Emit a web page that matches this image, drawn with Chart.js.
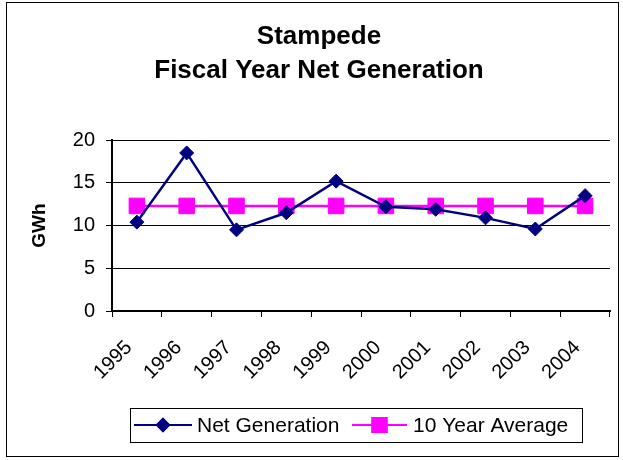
<!DOCTYPE html>
<html>
<head>
<meta charset="utf-8">
<title>Stampede Fiscal Year Net Generation</title>
<script src="https://cdn.jsdelivr.net/npm/chart.js@4"></script>
<style>
    html, body { margin: 0; padding: 0; background: #fff; }
    #wrap { width: 623px; height: 460px; }
</style>
</head>
<body>
<div id="wrap"><canvas id="lineChart" width="623" height="460"></canvas></div>
<script>
// Chart data
const years = ['1995', '1996', '1997', '1998', '1999', '2000', '2001', '2002', '2003', '2004'];
const netGeneration = [10.4, 18.5, 9.5, 11.5, 15.2, 12.2, 11.9, 10.9, 9.6, 13.5];
const tenYearAverage = [12.3, 12.3, 12.3, 12.3, 12.3, 12.3, 12.3, 12.3, 12.3, 12.3];
const yTicks = [0, 5, 10, 15, 20];
const seriesNames = ['Net Generation', '10 Year Average'];

const FONT = 'Liberation Sans, Arial, sans-serif';
const NAVY = '#000080';
const MAGENTA = '#FF00FF';

// Outer frame + legend box, drawn like the Excel one
const frameAndLegend = {
    id: 'frameAndLegend',
    afterDraw(chart) {
        const ctx = chart.ctx;
        ctx.save();

        // outer border
        ctx.strokeStyle = '#000';
        ctx.lineWidth = 1;
        ctx.strokeRect(6.5, 2.5, 612, 454);

        // legend box
        ctx.strokeRect(130.5, 408.5, 452, 34);

        const ds = chart.data.datasets;
        const y = 425;
        const items = [
            { x0: 134, x1: 192, text: 197 },
            { x0: 352, x1: 407, text: 413 }
        ];
        items.forEach((it, i) => {
            const d = ds[i];
            ctx.strokeStyle = d.borderColor;
            ctx.lineWidth = 2;
            ctx.beginPath();
            ctx.moveTo(it.x0, y);
            ctx.lineTo(it.x1, y);
            ctx.stroke();
            Chart.helpers.drawPoint(ctx, {
                pointStyle: d.pointStyle,
                radius: i === 0 ? 6 : 10,
                rotation: 0,
                borderWidth: 1
            }, (it.x0 + it.x1) / 2, y);
            ctx.fillStyle = d.pointBackgroundColor;
            ctx.strokeStyle = d.pointBorderColor;
            ctx.fill();
            ctx.stroke();

            ctx.fillStyle = '#000';
            ctx.font = '21px ' + FONT;
            ctx.textBaseline = 'middle';
            ctx.textAlign = 'left';
            ctx.fillText(d.label, it.text, y + 1);
        });
        ctx.restore();
    }
};

const ctx = document.getElementById('lineChart').getContext('2d');
const lineChart = new Chart(ctx, {
    type: 'line',
    data: {
        labels: years,
        datasets: [{
            label: seriesNames[0],
            data: netGeneration,
            borderColor: NAVY,
            borderWidth: 2.5,
            pointStyle: 'rectRot',
            pointRadius: 7,
            pointBackgroundColor: NAVY,
            pointBorderColor: NAVY,
            pointBorderWidth: 1,
            tension: 0
        }, {
            label: seriesNames[1],
            data: tenYearAverage,
            borderColor: MAGENTA,
            borderWidth: 2.5,
            pointStyle: 'rect',
            pointRadius: 11,
            pointBackgroundColor: MAGENTA,
            pointBorderColor: MAGENTA,
            pointBorderWidth: 1,
            tension: 0
        }]
    },
    options: {
        responsive: false,
        animation: false,
        devicePixelRatio: 1,
        layout: {
            padding: { left: 28, right: 13, top: 0, bottom: 59 }
        },
        scales: {
            x: {
                offset: true,
                grid: {
                    offset: true,
                    drawOnChartArea: false,
                    drawTicks: true,
                    tickLength: 6,
                    color: '#000'
                },
                border: { display: true, color: '#000', width: 2 },
                ticks: {
                    color: '#000',
                    font: { family: FONT, size: 20 },
                    minRotation: 45,
                    maxRotation: 45,
                    autoSkip: false,
                    padding: 19,
                    labelOffset: -8
                },
                afterFit(scale) { scale.height = 90; }
            },
            y: {
                min: 0,
                max: 20,
                afterBuildTicks(scale) {
                    scale.ticks = yTicks.map(v => ({ value: v }));
                },
                grid: {
                    color: '#000',
                    lineWidth: 1,
                    drawTicks: true,
                    tickLength: 6
                },
                border: { display: true, color: '#000', width: 2 },
                ticks: {
                    color: '#000',
                    font: { family: FONT, size: 20 },
                    padding: 11
                },
                title: {
                    display: true,
                    text: 'GWh',
                    color: '#000',
                    font: { family: FONT, size: 19, weight: 'bold' },
                    padding: { top: 0, bottom: 0 }
                },
                afterFit(scale) { scale.width = 84; }
            }
        },
        plugins: {
            legend: { display: false },
            tooltip: { enabled: false },
            title: {
                display: true,
                text: ['Stampede', 'Fiscal Year Net Generation'],
                color: '#000',
                font: { family: FONT, size: 26, weight: 'bold', lineHeight: 1.31 },
                padding: { top: 20, bottom: 52 }
            }
        }
    },
    plugins: [frameAndLegend]
});
</script>
</body>
</html>
